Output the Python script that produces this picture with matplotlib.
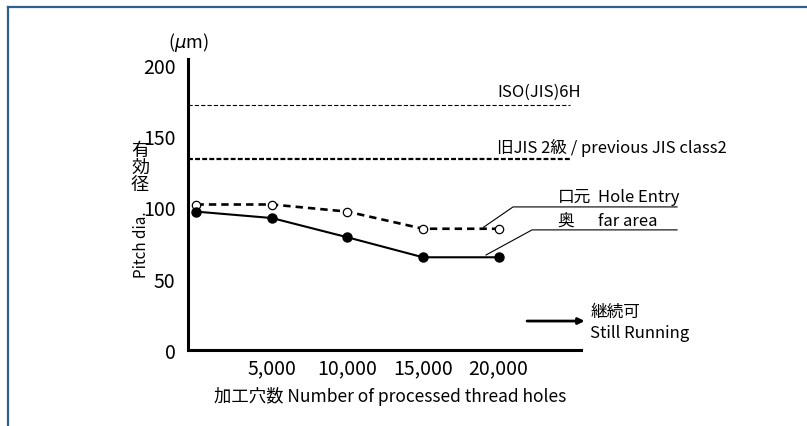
import numpy as np
import matplotlib
matplotlib.use('Agg')
import matplotlib.pyplot as plt
from matplotlib.lines import Line2D

plt.rcParams['font.family'] = ['Noto Sans CJK JP', 'DejaVu Sans']

# data
holes = [0, 5000, 10000, 15000, 20000]
entry = [102, 102, 97, 85, 85]      # 口元 Hole Entry (open circles)
far = [97, 92.5, 79, 65, 65]        # 奥 far area (filled circles)
iso_6h = 172
old_jis2 = 134
x_ticks = [5000, 10000, 15000, 20000]
x_labels = ['5,000', '10,000', '15,000', '20,000']
y_ticks = [0, 50, 100, 150, 200]

W, H = 807, 427
fig = plt.figure(figsize=(W / 100, H / 100), dpi=100)
ax = fig.add_axes([188 / W, 76 / H, 393 / W, 291 / H])

# reference limits
ax.axhline(iso_6h, xmin=0, xmax=0.972, color='black', lw=0.8, ls=(0, (3.8, 1.9)))
ax.axhline(old_jis2, xmin=0, xmax=0.972, color='black', lw=1.6, ls=(0, (2.2, 1.0)))

# measured series
ax.plot(holes, entry, color='black', lw=1.9, ls=(0, (2.8, 1.9)),
        marker='o', ms=6, mfc='white', mec='black', mew=0.9)
ax.plot(holes, far, color='black', lw=1.5, marker='o', ms=6.5,
        mfc='black', mec='black')

ax.set_xlim(-560, 25460)
ax.set_ylim(0, 204)
ax.set_xticks(x_ticks, labels=x_labels, fontsize=14)
ax.set_yticks(y_ticks, labels=[str(v) for v in y_ticks], fontsize=14)
ax.tick_params(axis='x', length=0, pad=5)
ax.tick_params(axis='y', length=0, pad=9)
for side in ['top', 'right']:
    ax.spines[side].set_visible(False)
for side in ['left', 'bottom']:
    ax.spines[side].set_linewidth(2.2)

# labels of the limit lines
ax.text(19900, 181, 'ISO(JIS)6H', fontsize=12, va='center', ha='left')
ax.text(19900, 142, '旧JIS 2級 / previous JIS class2', fontsize=12, va='center', ha='left')

# leaders to the series names
ax.plot([19000, 20960, 31820], [86, 100.3, 100.3], color='black', lw=0.8, clip_on=False)
ax.plot([19170, 22220, 31820], [66.6, 84.2, 84.2], color='black', lw=0.8, clip_on=False)
ax.text(23900, 107.5, '口元', fontsize=12, va='center', ha='left')
ax.text(26590, 107.5, 'Hole Entry', fontsize=12, va='center', ha='left')
ax.text(23900, 90.5, '奥', fontsize=12, va='center', ha='left')
ax.text(26590, 90.5, 'far area', fontsize=12, va='center', ha='left')

# still running arrow
ax.annotate('', xy=(25700, 20.3), xytext=(21890, 20.3),
            arrowprops=dict(arrowstyle='-|>', lw=2, color='black', mutation_scale=9,
                            shrinkA=0, shrinkB=0), annotation_clip=False)
ax.text(26060, 27, '継続可', fontsize=12, va='center', ha='left')
ax.text(26060, 12.5, 'Still Running', fontsize=12, va='center', ha='left')

# axis titles
fig.text(188 / W, 1 - 43 / H, '($\\mu$m)', fontsize=13, ha='center', va='center')
fig.text(140 / W, 1 - 168 / H, '有\n効\n径', fontsize=13, ha='center', va='center',
         linespacing=0.92)
fig.text(141 / W, 1 - 245 / H, 'Pitch dia.', fontsize=11, ha='center', va='center',
         rotation=90)
fig.text(390 / W, 1 - 397 / H, '加工穴数 Number of processed thread holes', fontsize=12.5,
         ha='center', va='center')

# frame lines (top and left only)
frame_col = '#2f5f8a'
fig.add_artist(Line2D([8 / W, 1], [1 - 8 / H, 1 - 8 / H], color=frame_col, lw=1.6))
fig.add_artist(Line2D([8 / W, 8 / W], [0, 1 - 8 / H], color=frame_col, lw=1.6))

fig.savefig('out.png', dpi=100)
